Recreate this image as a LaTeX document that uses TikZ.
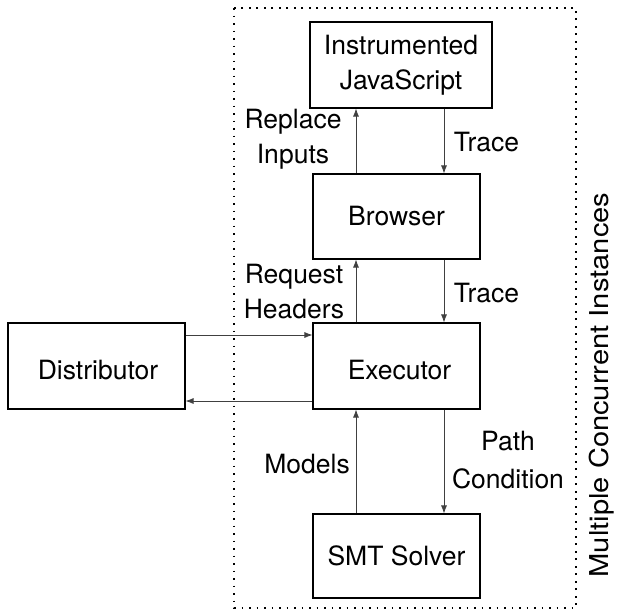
\documentclass[tikz,border=0pt]{standalone}
\usepackage{fontspec}
\setmainfont{TeX Gyre Heros}
\newfontfamily\sidefont[FakeStretch=1.12]{TeX Gyre Heros}
\usetikzlibrary{arrows.meta,calc}
\begin{document}
\begin{tikzpicture}[x=1pt,y=-1pt,
  every node/.style={font=\fontsize{26.5}{35}\selectfont},
  blockbox/.style={draw,line width=1.1pt,minimum width=167pt,minimum height=85pt,inner sep=0pt,align=center},
  flow/.style={line width=0.8pt,draw=black!75,-{Latex[length=8pt,width=6pt]}},
  lbl/.style={inner sep=0pt,anchor=base}]
\useasboundingbox (0,0) rectangle (620,614);
% dotted region around the per-instance components
\draw[line width=1.6pt,dash pattern=on 1.6pt off 5.9pt] (234,8) rectangle (576,608);
\node[rotate=90,inner sep=0pt,font=\sidefont\fontsize{26}{35}\selectfont] (multi) at (602,385) {Multiple Concurrent Instances};
% blocks
\node[blockbox,minimum width=182pt,minimum height=86pt] (js) at (401,65) {};
\node[lbl,align=center] (jstext) at (401,89) {Instrumented\\JavaScript};
\node[blockbox] (browser) at (396.5,216.5) {};
\node[lbl] (browsertext) at (396.5,225) {Browser};
\node[blockbox,minimum height=86pt] (exec) at (396.5,366) {};
\node[lbl] (exectext) at (399.5,379) {Executor};
\node[blockbox,minimum height=84pt] (smt) at (396.5,556) {};
\node[lbl] (smttext) at (396.5,565) {SMT Solver};
\node[blockbox,minimum width=177pt,minimum height=86pt] (dist) at (96.5,366) {};
\node[lbl] (disttext) at (98,379) {Distributor};
% vertical lanes for the connectors
\coordinate (up) at (356,0);
\coordinate (down) at (444,0);
\coordinate (toexec) at (0,335);
\coordinate (todist) at (0,401);
% connectors
\draw[flow] (browser.north -| up) -- (js.south -| up);
\draw[flow] (js.south -| down) -- (browser.north -| down);
\draw[flow] (exec.north -| up) -- (browser.south -| up);
\draw[flow] (browser.south -| down) -- (exec.north -| down);
\draw[flow] (smt.north -| up) -- (exec.south -| up);
\draw[flow] (exec.south -| down) -- (smt.north -| down);
\draw[flow] (dist.east |- toexec) -- (exec.west |- toexec);
\draw[flow] (exec.west |- todist) -- (dist.east |- todist);
% connector labels
\node[lbl,align=center] (l1) at (293,163) {Replace\\Inputs};
\node[lbl] (l2) at (486.5,151) {Trace};
\node[lbl,align=center] (l3) at (294,318) {Request\\Headers};
\node[lbl] (l4) at (486.5,302) {Trace};
\node[lbl,anchor=base east] (l5) at (350,473) {Models};
\node[lbl,align=center] (l6) at (508,488) {Path\\[3pt]Condition};
\end{tikzpicture}
\end{document}
